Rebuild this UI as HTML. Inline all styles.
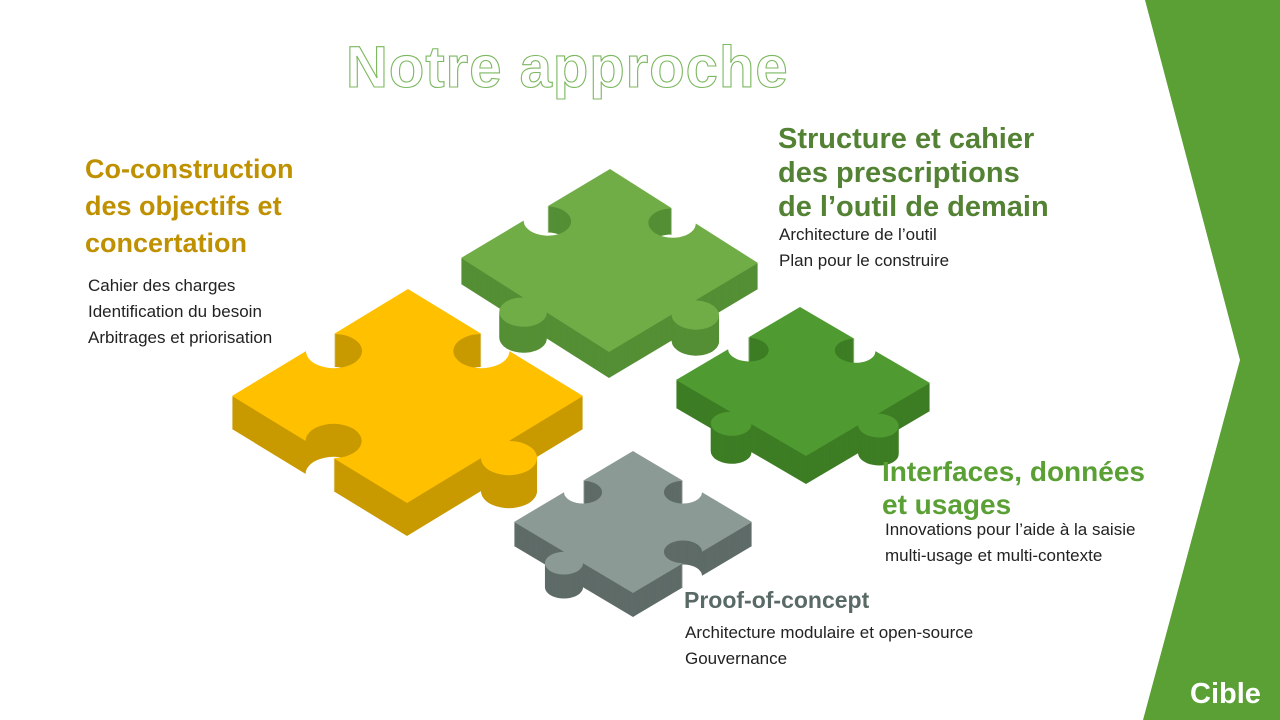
<!DOCTYPE html>
<html><head><meta charset="utf-8">
<style>
html,body{margin:0;padding:0;}
body{width:1280px;height:720px;position:relative;overflow:hidden;background:#fff;font-family:"Liberation Sans",sans-serif;}
.t{position:absolute;white-space:nowrap;}
.h{font-weight:bold;font-size:27px;line-height:37px;}
.b{font-size:17px;line-height:26px;color:#222;}
</style></head><body>
<svg id="s" width="1280" height="720" style="position:absolute;left:0;top:0">
<polygon points="1145,0 1280,0 1280,720 1143,720 1240,360" fill="#5aa035"/>
</svg>
<div class="t" style="left:346px;top:34px;font-size:58px;font-weight:bold;letter-spacing:1px;color:#fff;-webkit-text-stroke:1.1px #7cb860;">Notre approche</div>

<div class="t h" style="left:85px;top:151px;color:#bf9000;">Co-construction<br>des objectifs et<br>concertation</div>
<div class="t b" style="left:88px;top:273px;">Cahier des charges<br>Identification du besoin<br>Arbitrages et priorisation</div>

<div class="t h" style="left:778px;top:122px;color:#548235;line-height:34px;font-size:29px;">Structure et cahier<br>des prescriptions<br>de l’outil de demain</div>
<div class="t b" style="left:779px;top:222px;">Architecture de l’outil<br>Plan pour le construire</div>

<div class="t h" style="left:882px;top:455px;color:#5aa035;line-height:33px;font-size:28px;">Interfaces, données<br>et usages</div>
<div class="t b" style="left:885px;top:517px;">Innovations pour l’aide à la saisie<br>multi-usage et multi-contexte</div>

<div class="t h" style="left:684px;top:584px;color:#596a66;font-size:23px;line-height:32px;">Proof-of-concept</div>
<div class="t b" style="left:685px;top:620px;">Architecture modulaire et open-source<br>Gouvernance</div>

<div class="t" style="left:1190px;top:678px;color:#fff;font-weight:bold;font-size:29px;">Cible</div>

<script>
const svg=document.getElementById('s');
function edge(pts,P0,P1,s,pos){
  const dx=P1[0]-P0[0],dy=P1[1]-P0[1];
  const nx=dy,ny=-dx;
  if(s===0){pts.push(P1);return;}
  const a=pos-0.08,b=pos+0.08;
  pts.push([P0[0]+dx*a,P0[1]+dy*a]);
  const cx=P0[0]+dx*pos+nx*0.08*s, cy=P0[1]+dy*pos+ny*0.08*s;
  const r=Math.hypot(0.08,0.08)*1.0;
  const sa=Math.atan2(P0[1]+dy*a-cy,P0[0]+dx*a-cx);
  const ea=Math.atan2(P0[1]+dy*b-cy,P0[0]+dx*b-cx);
  let d1=ea-sa; while(d1<=0)d1+=2*Math.PI; let d2=d1-2*Math.PI;
  const d = Math.abs(d1)>Math.abs(d2)?d1:d2;
  for(let i=1;i<30;i++){const t=sa+d*i/30;pts.push([cx+r*Math.cos(t),cy+r*Math.sin(t)]);}
  pts.push([P0[0]+dx*b,P0[1]+dy*b]);
  pts.push(P1);
}
function piece(T,R,L,th,top,side,e){
  const pts=[[0,0]];
  edge(pts,[0,0],[1,0],e[0],0.5);
  edge(pts,[1,0],[1,1],e[1],0.5);
  edge(pts,[1,1],[0,1],e[2],0.5);
  edge(pts,[0,1],[0,0],e[3],0.5);
  const ux=R[0]-T[0],uy=R[1]-T[1],vx=L[0]-T[0],vy=L[1]-T[1];
  const scr=pts.map(p=>[T[0]+p[0]*ux+p[1]*vx,T[1]+p[0]*uy+p[1]*vy]);
  const mk=(dy,col)=>{const pg=document.createElementNS('http://www.w3.org/2000/svg','polygon');
    pg.setAttribute('points',scr.map(p=>p[0].toFixed(1)+','+(p[1]+dy).toFixed(1)).join(' '));
    pg.setAttribute('fill',col);svg.appendChild(pg);};
  for(let k=th;k>0;k--)mk(k,side);
  mk(0,top);
}
piece([610,169],[758,263],[461,258],26,'#70ad47','#548f35',[-1,1,1,-1]);
piece([408,289],[583,396],[232,396],33,'#ffc000','#c99a00',[-1,1,-1,-1]);
piece([800,307],[930,383],[676,380],28,'#4f9b31','#3d7d24',[-1,1,1,-1]);
piece([633,451],[752,522],[514,522],24,'#8c9a96','#5e6b67',[-1,-1,1,-1]);
</script>
</body></html>
